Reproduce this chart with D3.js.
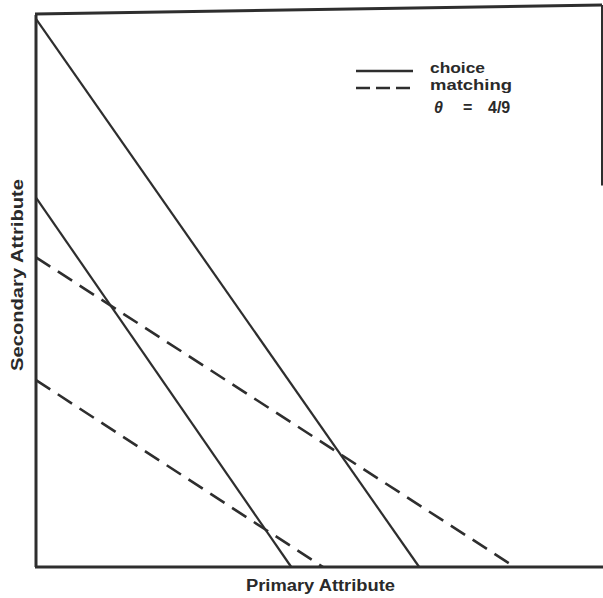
<!DOCTYPE html>
<html>
<head>
<meta charset="utf-8">
<script src="https://cdn.jsdelivr.net/npm/d3@7"></script>
<style>
  body { margin: 0; background: #fff; }
  text { font-family: "Liberation Sans", Arial, sans-serif; fill: #2a2a2a; }
</style>
</head>
<body>
<script>
// data (intercepts on each axis, in arbitrary attribute units 0-10)
var choiceX = [6.77, 4.51];
var choiceY = [9.91, 6.68];
var matchX = [8.46, 5.07];
var matchY = [5.60, 3.38];

var legendLabels = ['choice', 'matching'];
var thetaParts = ['\u03B8', '=', '4/9'];

var width = 603, height = 598;
var ink = '#2e2e2e';

var x = d3.scaleLinear().domain([0, 10]).range([36, 602]);
var y = d3.scaleLinear().domain([0, 10]).range([567, 14]);

var svg = d3.select('body').append('svg')
	.attr('width', width)
	.attr('height', height);

// frame: left + bottom axis, top edge (slightly skewed like the scan), partial right edge
svg.append('line')
	.attr('x1', x(0)).attr('y1', y(10) + 1)
	.attr('x2', x(0)).attr('y2', y(0))
	.style('stroke', ink).style('stroke-width', 3);
svg.append('line')
	.attr('x1', x(0) - 1).attr('y1', y(0))
	.attr('x2', width).attr('y2', y(0))
	.style('stroke', ink).style('stroke-width', 3);
svg.append('line')
	.attr('x1', x(0) - 1).attr('y1', y(10))
	.attr('x2', x(10)).attr('y2', y(10) - 9)
	.style('stroke', ink).style('stroke-width', 3);
svg.append('line')
	.attr('x1', x(10)).attr('y1', y(10) - 9)
	.attr('x2', x(10)).attr('y2', y(6.9))
	.style('stroke', ink).style('stroke-width', 2);

function drawLines(xs, ys, dash, sw) {
	var data = xs.map(function(d, i) { return {x0: d, y0: ys[i]}; });
	svg.selectAll(null)
		.data(data)
		.enter().append('line')
		.attr('x1', x(0))
		.attr('y1', function(d) { return y(d.y0); })
		.attr('x2', function(d) { return x(d.x0); })
		.attr('y2', y(0))
		.style('stroke', ink)
		.style('stroke-width', sw)
		.style('stroke-dasharray', dash);
}

drawLines(choiceX, choiceY, null, 2.2);
drawLines(matchX, matchY, '17,9', 2.6);

// legend
var legendW = [55, 82];
var legend = svg.append('g').attr('transform', 'translate(356,71)');
legend.selectAll('line')
	.data(legendLabels)
	.enter().append('line')
	.attr('x1', 0)
	.attr('x2', 57)
	.attr('y1', function(d, i) { return i * 17; })
	.attr('y2', function(d, i) { return i * 17; })
	.style('stroke', ink)
	.style('stroke-width', 2.5)
	.style('stroke-dasharray', function(d, i) { return i ? '14,6' : null; });
legend.selectAll('text.lab')
	.data(legendLabels)
	.enter().append('text')
	.attr('class', 'lab')
	.attr('x', 74)
	.attr('y', function(d, i) { return i * 17 + 2; })
	.attr('textLength', function(d, i) { return legendW[i]; })
	.attr('lengthAdjust', 'spacingAndGlyphs')
	.style('font-size', '15px')
	.style('font-weight', 'bold')
	.text(function(d) { return d; });

// theta = 4/9 line, pieces placed apart as in the original
var thetaX = [78, 107, 132];
legend.selectAll('text.theta')
	.data(thetaParts)
	.enter().append('text')
	.attr('class', 'theta')
	.attr('x', function(d, i) { return thetaX[i]; })
	.attr('y', 42)
	.style('font-size', '16px')
	.style('font-weight', 'bold')
	.style('font-style', function(d, i) { return i === 0 ? 'italic' : 'normal'; })
	.text(function(d) { return d; });

// axis titles
svg.append('text')
	.attr('x', 246)
	.attr('y', 591)
	.attr('textLength', 149)
	.attr('lengthAdjust', 'spacingAndGlyphs')
	.style('font-size', '16px')
	.style('font-weight', 'bold')
	.text('Primary Attribute');

svg.append('text')
	.attr('transform', 'translate(23,371) rotate(-90)')
	.attr('textLength', 192)
	.attr('lengthAdjust', 'spacingAndGlyphs')
	.style('font-size', '16px')
	.style('font-weight', 'bold')
	.text('Secondary Attribute');
</script>
</body>
</html>
